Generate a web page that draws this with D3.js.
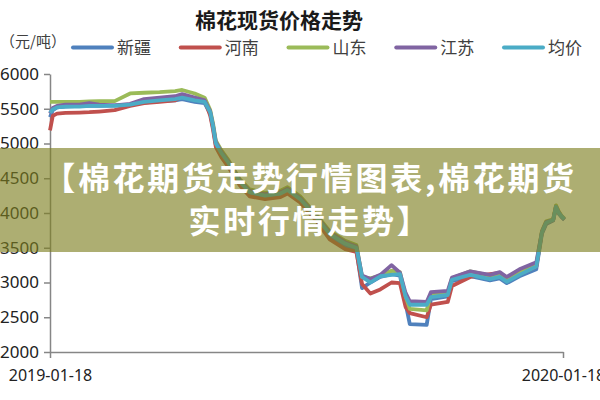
<!DOCTYPE html>
<html><head><meta charset="utf-8">
<script src="https://cdn.jsdelivr.net/npm/d3@7"></script>
<style>html,body{margin:0;padding:0;background:#fff;overflow:hidden}</style>
</head><body><svg id="c" width="600" height="400"></svg>
<script>
const title = "棉花现货价格走势";
const unitLabel = "（元/吨）";
const bannerLines = ["【棉花期货走势行情图表,棉花期货", "实时行情走势】"];
const seriesNames = ["新疆", "河南", "山东", "江苏", "均价"];
const seriesColors = ["#4F81BD", "#C0504D", "#9BBB59", "#8064A2", "#4BACC6"];
const yTicks = [2000, 2500, 3000, 3500, 4000, 4500, 5000, 5500, 6000];
const xTickLabels = ["2019-01-18", "2020-01-18"];
const dates = ["2019-01-18","2019-01-20","2019-01-23","2019-01-29","2019-02-08","2019-02-15","2019-02-22","2019-03-05","2019-03-16","2019-03-26",
"2019-04-06","2019-04-17","2019-04-22","2019-05-01","2019-05-08","2019-05-12","2019-05-14","2019-05-16","2019-05-20","2019-05-25",
"2019-06-02","2019-06-09","2019-06-20","2019-07-01","2019-07-06","2019-07-15","2019-07-26","2019-08-05","2019-08-16","2019-08-24",
"2019-08-28","2019-09-03","2019-09-10","2019-09-18","2019-09-24","2019-09-28","2019-10-01","2019-10-13","2019-10-16","2019-10-28",
"2019-10-31","2019-11-13","2019-11-27","2019-12-04","2019-12-09","2019-12-18","2019-12-30","2020-01-03","2020-01-06","2020-01-11",
"2020-01-13","2020-01-15","2020-01-17","2020-01-19"];
const xinjiang = [5380,5480,5520,5530,5540,5545,5540,5550,5560,5590,5610,5620,5640,5600,5580,5430,5230,4980,4840,4690,
4430,4270,4230,4260,4310,4180,3930,3640,3520,3470,2920,3000,3080,3120,3100,2700,2400,2390,2760,2800,
3020,3090,3030,3060,2990,3090,3190,3700,3840,3890,4070,3990,3940,3900];
const henan = [5190,5400,5430,5440,5445,5450,5460,5480,5540,5580,5600,5620,5680,5640,5620,5400,5200,4950,4800,4660,
4400,4240,4200,4230,4280,4150,3900,3620,3480,3440,2980,2840,2900,3000,2990,2650,2560,2500,2680,2720,
2950,3080,3120,3140,3030,3120,3230,3720,3860,3900,4100,4010,3950,3910];
const shandong = [5600,5600,5600,5600,5600,5605,5610,5610,5720,5730,5740,5755,5770,5720,5660,5480,5290,5040,4900,4760,
4490,4340,4290,4320,4370,4240,3990,3740,3600,3540,3080,3060,3100,3170,3150,2800,2620,2600,2830,2850,
3060,3160,3100,3110,3040,3150,3260,3740,3880,3910,4110,4020,3960,3920];
const jiangsu = [5430,5510,5540,5560,5560,5580,5560,5550,5570,5640,5660,5680,5710,5660,5620,5460,5260,5020,4880,4740,
4470,4320,4270,4300,4350,4220,3970,3720,3580,3520,3100,3050,3110,3250,3140,2850,2730,2720,2860,2880,
3070,3160,3110,3150,3080,3190,3290,3730,3870,3900,4090,4010,3950,3910];
const average = [5440,5490,5520,5530,5530,5540,5540,5540,5560,5600,5620,5640,5660,5620,5600,5450,5250,5000,4860,4720,
4450,4300,4250,4280,4330,4200,3950,3700,3560,3500,3080,3000,3090,3110,3120,2800,2680,2680,2790,2820,
3040,3110,3050,3080,3010,3110,3230,3720,3860,3900,4090,4000,3950,3910];
const seriesValues = [xinjiang, henan, shandong, jiangsu, average];

const svg = d3.select("#c");
const parse = d3.timeParse("%Y-%m-%d");
const x = d3.scaleTime().domain([parse(xTickLabels[0]), parse(xTickLabels[1])]).range([50, 563]);
const y = d3.scaleLinear().domain([2000, 6000]).range([352, 74]);
const axisColor = "#868686";

// title
svg.append("text").attr("x", 279).attr("y", 28).attr("text-anchor", "middle")
  .attr("font-family", "'Noto Sans CJK SC'").attr("font-weight", "bold").attr("font-size", 21)
  .attr("fill", "#1a1a1a").text(title);
// unit
svg.append("text").attr("x", 0).attr("y", 47)
  .attr("font-family", "'Noto Sans CJK SC'").attr("font-size", 15).attr("fill", "#404040").text(unitLabel);
// legend
const leg = svg.append("g");
seriesNames.forEach((n, i) => {
  const lx = 73 + i * 107.75;
  leg.append("line").attr("x1", lx).attr("x2", lx + 39).attr("y1", 47.5).attr("y2", 47.5)
    .attr("stroke", seriesColors[i]).attr("stroke-width", 4).attr("stroke-linecap", "round");
  leg.append("text").attr("x", lx + 44).attr("y", 53.5)
    .attr("font-family", "'Noto Sans CJK SC'").attr("font-size", 17).attr("fill", "#404040").text(n);
});

// axes
const yAxis = svg.append("g").attr("transform", "translate(50,0)")
  .call(d3.axisLeft(y).tickValues(yTicks).tickFormat(d3.format("d")).tickSize(6).tickSizeOuter(0).tickPadding(5));
const xAxis = svg.append("g").attr("transform", "translate(0,352)")
  .call(d3.axisBottom(x).tickValues(xTickLabels.map(parse)).tickFormat(d3.timeFormat("%Y-%m-%d"))
    .tickSize(6).tickSizeOuter(0).tickPadding(12));
[yAxis, xAxis].forEach(g => {
  g.selectAll("path,line").attr("stroke", axisColor).attr("stroke-width", 1.5);
  g.selectAll("text").attr("font-family", "'Noto Sans', sans-serif").attr("font-size", 16).attr("fill", "#222");
});
yAxis.selectAll("text").attr("font-size", 17);

// lines
const line = d3.line().x((d, i) => x(parse(dates[i]))).y(d => y(d));
seriesValues.forEach((vals, i) => {
  svg.append("path").datum(vals).attr("d", line).attr("fill", "none")
    .attr("stroke", seriesColors[i]).attr("stroke-width", 3.8).attr("stroke-linejoin", "round");
});

// banner
svg.append("rect").attr("x", 0).attr("y", 148).attr("width", 600).attr("height", 104)
  .attr("fill", "#7d7f20").attr("opacity", 0.63);
bannerLines.forEach((t, i) => {
  svg.append("text").attr("x", 310).attr("y", 190 + i * 43).attr("text-anchor", "middle")
    .attr("font-family", "'Noto Sans CJK SC'").attr("font-weight", "bold").attr("font-size", 32)
    .attr("letter-spacing", 2.7).attr("fill", "#fff").text(t);
});
</script></body></html>
